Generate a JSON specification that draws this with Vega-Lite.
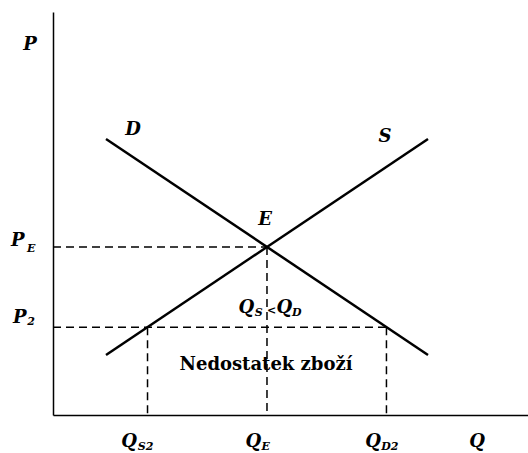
{
  "$schema": "https://vega.github.io/schema/vega-lite/v6.json",
  "width": 475,
  "height": 403,
  "autosize": {"type": "none"},
  "padding": {"left": 53, "top": 12, "right": 0, "bottom": 38},
  "background": "white",
  "config": {"view": {"stroke": null}},
  "datasets": {
    "curves": [
      {"curve": "D", "q": 1.116, "p": 6.85},
      {"curve": "D", "q": 7.895, "p": 1.49},
      {"curve": "S", "q": 1.116, "p": 1.49},
      {"curve": "S", "q": 7.895, "p": 6.85}
    ],
    "guides": [
      {"q1": 0, "p1": 4.17, "q2": 4.505, "p2": 4.17},
      {"q1": 4.505, "p1": 4.17, "q2": 4.505, "p2": 0},
      {"q1": 0, "p1": 2.18, "q2": 7.02, "p2": 2.18},
      {"q1": 1.99, "p1": 2.18, "q2": 1.99, "p2": 0},
      {"q1": 7.02, "p1": 2.18, "q2": 7.02, "p2": 0}
    ],
    "mainLabels": [
      {"label": "P", "q": -0.484, "p": 9.17},
      {"label": "D", "q": 1.684, "p": 7.07},
      {"label": "S", "q": 6.989, "p": 6.9},
      {"label": "E", "q": 4.463, "p": 4.84},
      {"label": "P", "q": -0.74, "p": 4.32},
      {"label": "P", "q": -0.70, "p": 2.41},
      {"label": "Q", "q": 1.60, "p": -0.67},
      {"label": "Q", "q": 4.22, "p": -0.67},
      {"label": "Q", "q": 6.74, "p": -0.67},
      {"label": "Q", "q": 8.926, "p": -0.67},
      {"label": "Q", "q": 4.07, "p": 2.655},
      {"label": "Q", "q": 4.87, "p": 2.655}
    ],
    "subLabels": [
      {"label": "E", "q": -0.46, "p": 4.12},
      {"label": "2", "q": -0.46, "p": 2.3},
      {"label": "S2", "q": 1.95, "p": -0.79},
      {"label": "E", "q": 4.48, "p": -0.79},
      {"label": "D2", "q": 7.09, "p": -0.79},
      {"label": "S", "q": 4.33, "p": 2.54},
      {"label": "<", "q": 4.6, "p": 2.58},
      {"label": "D", "q": 5.13, "p": 2.54}
    ],
    "notes": [
      {"label": "Nedostatek zboží", "q": 4.484, "p": 1.24}
    ]
  },
  "encoding": {
    "x": {"type": "quantitative", "scale": {"domain": [0, 10], "nice": false, "zero": false}},
    "y": {"type": "quantitative", "scale": {"domain": [0, 10], "nice": false, "zero": false}}
  },
  "layer": [
    {
      "data": {"name": "guides"},
      "mark": {"type": "rule", "color": "black", "strokeWidth": 1.5, "strokeDash": [8, 5]},
      "encoding": {
        "x": {"field": "q1", "type": "quantitative", "axis": {"domain": true, "domainColor": "black", "domainWidth": 1.5, "ticks": false, "labels": false, "grid": false, "title": null}},
        "y": {"field": "p1", "type": "quantitative", "axis": {"domain": true, "domainColor": "black", "domainWidth": 1.5, "ticks": false, "labels": false, "grid": false, "title": null}},
        "x2": {"field": "q2"},
        "y2": {"field": "p2"}
      }
    },
    {
      "data": {"name": "curves"},
      "mark": {"type": "line", "color": "black", "strokeWidth": 2.5},
      "encoding": {
        "x": {"field": "q", "type": "quantitative"},
        "y": {"field": "p", "type": "quantitative"},
        "detail": {"field": "curve"}
      }
    },
    {
      "data": {"name": "mainLabels"},
      "mark": {"type": "text", "font": "DejaVu Serif", "fontSize": 18, "fontWeight": "bold", "fontStyle": "italic", "align": "center", "baseline": "middle", "color": "black"},
      "encoding": {
        "x": {"field": "q", "type": "quantitative"},
        "y": {"field": "p", "type": "quantitative"},
        "text": {"field": "label"}
      }
    },
    {
      "data": {"name": "subLabels"},
      "mark": {"type": "text", "font": "DejaVu Serif", "fontSize": 11, "fontWeight": "bold", "fontStyle": "italic", "align": "center", "baseline": "middle", "color": "black"},
      "encoding": {
        "x": {"field": "q", "type": "quantitative"},
        "y": {"field": "p", "type": "quantitative"},
        "text": {"field": "label"}
      }
    },
    {
      "data": {"name": "notes"},
      "mark": {"type": "text", "font": "DejaVu Serif", "fontSize": 18, "fontWeight": "bold", "align": "center", "baseline": "middle", "color": "black"},
      "encoding": {
        "x": {"field": "q", "type": "quantitative"},
        "y": {"field": "p", "type": "quantitative"},
        "text": {"field": "label"}
      }
    }
  ]
}
